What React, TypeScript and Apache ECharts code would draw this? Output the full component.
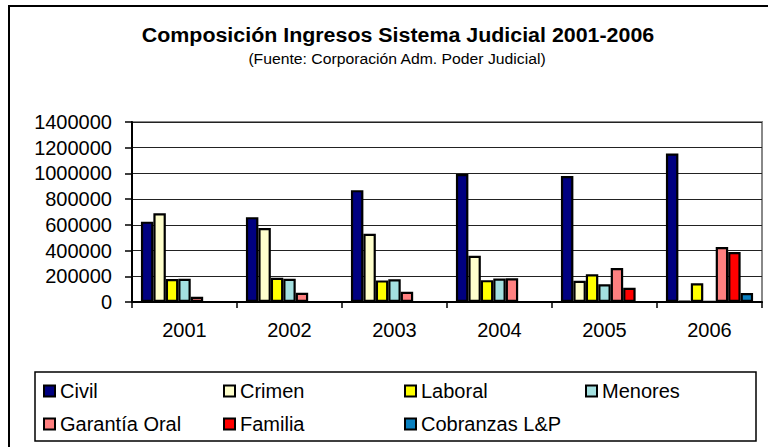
import React, { useEffect, useRef } from "react";
import * as echarts from "echarts";

const categories = ["2001", "2002", "2003", "2004", "2005", "2006"];
const seriesNames = ["Civil", "Crimen", "Laboral", "Menores", "Garantía Oral", "Familia", "Cobranzas L&P"];
const civil = [625000, 660000, 870000, 995000, 980000, 1155000];
const crimen = [690000, 575000, 530000, 360000, 165000, 8000];
const laboral = [178000, 188000, 168000, 170000, 215000, 145000];
const menores = [180000, 180000, 177000, 183000, 138000, 3000];
const garantiaOral = [40000, 72000, 80000, 185000, 265000, 428000];
const familia = [0, 0, 0, 0, 110000, 388000];
const cobranzas = [0, 0, 0, 0, 0, 70000];
const colors = ["#000080", "#FFFFCC", "#FFFF00", "#A4E0E0", "#FF8080", "#FF0000", "#0A80C0"];
const yTicks = [0, 200000, 400000, 600000, 800000, 1000000, 1200000, 1400000];

const allValues = [civil, crimen, laboral, menores, garantiaOral, familia, cobranzas];
const FONT = "'Liberation Sans', Arial, sans-serif";

const legendCols = [38, 218, 399, 580];
const legendRows = [376, 409];

export default function App() {
  const ref = useRef<HTMLDivElement>(null);
  useEffect(() => {
    document.body.style.margin = "0";
    const chart = echarts.init(ref.current!, null, { renderer: "svg" });
    const series = seriesNames.map((name, i) => ({
      name,
      type: "bar",
      data: allValues[i],
      barGap: "0%",
      barCategoryGap: "17%",
      itemStyle: { color: colors[i], borderColor: "#000", borderWidth: 2.2 },
    }));
    const legends = seriesNames.map((name, i) => ({
      data: [name],
      left: legendCols[i % 4],
      top: legendRows[Math.floor(i / 4)],
      itemWidth: 11,
      itemHeight: 11,
      icon: "rect",
      selectedMode: false,
      textStyle: { fontSize: 20, color: "#000", fontFamily: FONT },
    }));
    chart.setOption({
      animation: false,
      textStyle: { fontFamily: FONT },
      grid: {
        left: 132,
        right: 6,
        top: 122,
        bottom: 145,
        show: true,
        borderColor: "#888",
        borderWidth: 2,
        backgroundColor: "#fff",
      },
      xAxis: {
        type: "category",
        data: categories,
        axisLine: { lineStyle: { color: "#000", width: 2 } },
        axisTick: { show: true, length: 6, interval: 0, lineStyle: { color: "#000", width: 1.5 } },
        axisLabel: { color: "#000", fontSize: 20, margin: 18, fontFamily: FONT },
      },
      yAxis: {
        type: "value",
        min: yTicks[0],
        max: yTicks[yTicks.length - 1],
        interval: 200000,
        axisLine: { show: true, lineStyle: { color: "#000", width: 2 } },
        axisTick: { show: true, length: 7, lineStyle: { color: "#000", width: 1.5 } },
        axisLabel: {
          color: "#000",
          fontSize: 20,
          margin: 20,
          fontFamily: FONT,
          formatter: (v: number) => String(v),
        },
        splitLine: { lineStyle: { color: "#222", width: 1 } },
      },
      legend: legends,
      graphic: [
        {
          type: "rect",
          shape: { x: 9, y: 6, width: 800, height: 500 },
          style: { fill: "none", stroke: "#000", lineWidth: 2 },
          z: -10,
        },
        {
          type: "rect",
          shape: { x: 35, y: 372, width: 721, height: 69 },
          style: { fill: "none", stroke: "#000", lineWidth: 1.5 },
        },
        {
          type: "text",
          x: 398,
          y: 35,
          scaleX: 1.07,
          style: {
            text: "Composición Ingresos Sistema Judicial 2001-2006",
            fontSize: 20,
            fontWeight: "bold",
            fontFamily: FONT,
            fill: "#000",
            align: "center",
            verticalAlign: "middle",
          },
        },
        {
          type: "text",
          x: 397,
          y: 59,
          scaleX: 1.05,
          style: {
            text: "(Fuente: Corporación Adm. Poder Judicial)",
            fontSize: 15,
            fontFamily: FONT,
            fill: "#000",
            align: "center",
            verticalAlign: "middle",
          },
        },
      ],
      series,
    });
    return () => chart.dispose();
  }, []);
  return <div ref={ref} style={{ position: "absolute", left: 0, top: 0, width: 768, height: 447 }} />;
}
